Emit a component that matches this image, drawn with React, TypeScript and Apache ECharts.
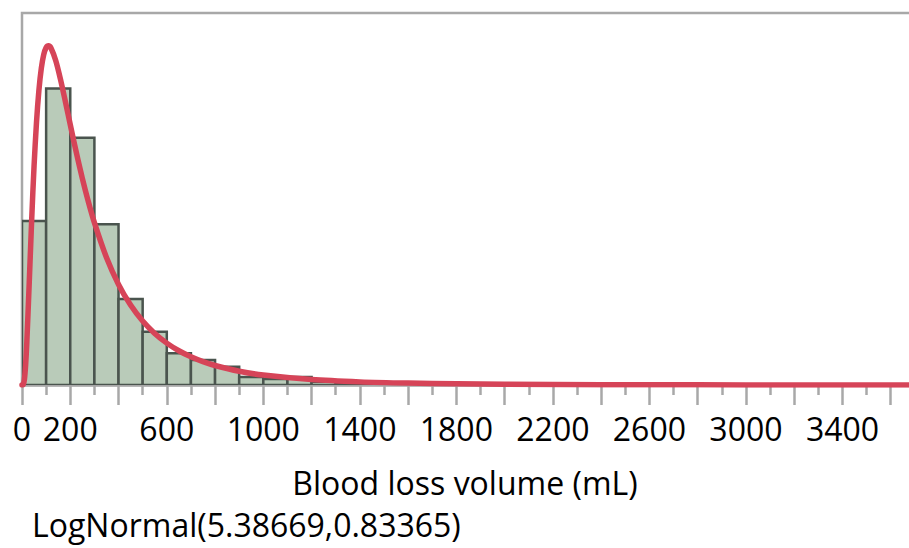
import React, { useEffect, useRef } from "react";
import * as echarts from "echarts";

// Histogram: bin starts (mL), bin width, and bin proportions
const binWidth = 100;
const binStarts = [0, 100, 200, 300, 400, 500, 600, 700, 800, 900, 1000, 1100, 1200, 1300, 1400, 1500, 1600, 1700, 1800, 1900];
const binProportions = [0.150, 0.271, 0.226, 0.147, 0.0786, 0.0487, 0.029, 0.0229, 0.0167, 0.0073, 0.0055, 0.0073, 0.003, 0.002, 0.0012, 0.0008, 0.0005, 0.0003, 0.0003, 0.0002];

// Fitted LogNormal(5.38669, 0.83365) curve, per-100 mL proportion, sampled points
const curveX = [0, 5, 10, 15, 20, 30, 40, 50, 60, 70, 80, 90, 100, 110, 120, 140, 160, 180, 200, 225, 250, 275, 300, 350, 400, 450, 500, 550, 600, 650, 700, 750, 800, 900, 1000, 1200, 1400, 1600, 1800, 2000, 2400, 2800, 3200, 3700, 3800];
const curveY = [0, 0.000333, 0.005105, 0.018274, 0.039146, 0.093567, 0.15036, 0.20017, 0.23986, 0.26918, 0.28938, 0.30193, 0.30839, 0.31003, 0.30801, 0.29642, 0.27892, 0.25878, 0.23793, 0.21256, 0.18893, 0.16751, 0.14839, 0.11654, 0.09196, 0.07304, 0.05845, 0.047125, 0.03827, 0.031303, 0.02578, 0.021357, 0.0178, 0.012573, 0.009058, 0.004944, 0.002856, 0.001727, 0.001084, 0.000703, 0.00032, 0.000158, 0.0000838, 0.0000408, 0.0000356];

// Tick labels shown on the x axis
const tickLabels = [0, 200, 600, 1000, 1400, 1800, 2200, 2600, 3000, 3400];

const xTitle = "Blood loss volume (mL)";
const fitCaption = "LogNormal(5.38669,0.83365)";

const FONT = "'Open Sans', 'Noto Sans', sans-serif";

export default function App() {
  const ref = useRef<HTMLDivElement>(null);

  useEffect(() => {
    if (!ref.current) return;
    const chart = echarts.init(ref.current, undefined, { renderer: "svg" });
    const histData = binStarts.map((s, i) => [s, s + binWidth, binProportions[i]]);
    const lineData = curveX.map((x, i) => [x, curveY[i]]);

    chart.setOption({
      animation: false,
      backgroundColor: "#ffffff",
      grid: {
        left: 22,
        right: 0,
        top: 13,
        bottom: 163,
        show: true,
        borderColor: "#a8a8a8",
        borderWidth: 2.5,
        backgroundColor: "transparent",
      },
      xAxis: {
        type: "value",
        min: 0,
        max: 3800,
        interval: 200,
        splitLine: { show: false },
        axisLine: { show: true, lineStyle: { color: "#a8a8a8", width: 2.5 } },
        axisTick: { show: true, length: 20, lineStyle: { color: "#a8a8a8", width: 2.5 } },
        minorTick: { show: true, splitNumber: 2, length: 10, lineStyle: { color: "#a8a8a8", width: 2.5 } },
        minorSplitLine: { show: false },
        axisLabel: {
          show: true,
          margin: 27,
          fontSize: 32,
          fontFamily: FONT,
          color: "#000000",
          hideOverlap: false,
          formatter: (v: number) => (tickLabels.indexOf(v) >= 0 ? String(v) : ""),
        },
      },
      yAxis: {
        type: "value",
        min: 0,
        max: 0.34,
        show: false,
        splitLine: { show: false },
      },
      series: [
        {
          type: "custom",
          data: histData,
          encode: { x: [0, 1], y: 2 },
          clip: true,
          renderItem: (params: any, api: any) => {
            const x0 = api.value(0);
            const x1 = api.value(1);
            const y = api.value(2);
            const p0 = api.coord([x0, y]);
            const p1 = api.coord([x1, 0]);
            return {
              type: "rect",
              shape: { x: p0[0], y: p0[1], width: p1[0] - p0[0], height: p1[1] - p0[1] },
              style: { fill: "#b9cbb9", stroke: "#4a544e", lineWidth: 2.5 },
            };
          },
          z: 2,
        },
        {
          type: "line",
          data: lineData,
          showSymbol: false,
          smooth: 0.3,
          lineStyle: { color: "#d64458", width: 5.5, join: "round", cap: "round" },
          z: 3,
        },
      ],
      graphic: [
        {
          type: "text",
          x: 465,
          y: 482,
          style: {
            text: xTitle,
            fontSize: 32,
            fontFamily: FONT,
            fill: "#000000",
            align: "center",
            verticalAlign: "middle",
          },
        },
        {
          type: "text",
          x: 32,
          y: 524,
          style: {
            text: fitCaption,
            fontSize: 32,
            fontFamily: FONT,
            fill: "#000000",
            align: "left",
            verticalAlign: "middle",
          },
        },
      ],
    });

    return () => chart.dispose();
  }, []);

  return (
    <div
      style={{ position: "absolute", left: 0, top: 0, width: 909, height: 548, overflow: "hidden", background: "#fff" }}
    >
      <div ref={ref} style={{ position: "absolute", left: 0, top: 0, width: 942, height: 548 }} />
    </div>
  );
}
